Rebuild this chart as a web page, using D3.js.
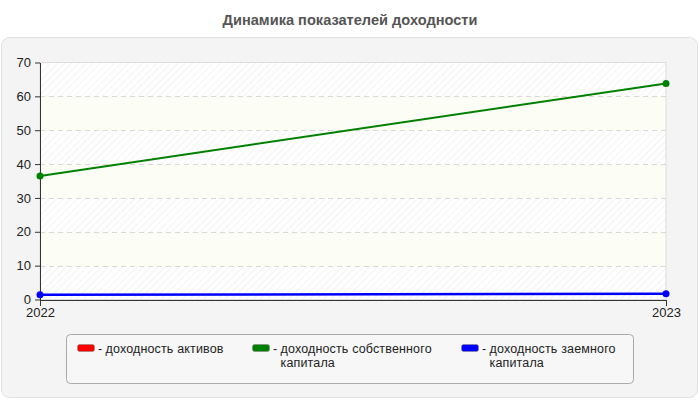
<!DOCTYPE html>
<html><head><meta charset="utf-8">
<script src="https://cdn.jsdelivr.net/npm/d3@7"></script>
<style>html,body{margin:0;padding:0;background:#fff;}svg{display:block;font-family:"Liberation Sans",Arial,sans-serif;}</style>
</head><body>
<svg id="c" width="700" height="400"></svg>
<script>
const title = "Динамика показателей доходности";
const years = ["2022", "2023"];
const yTicks = [0, 10, 20, 30, 40, 50, 60, 70];
const seriesNames = ["доходность активов", "доходность собственного капитала", "доходность заемного капитала"];
const seriesLines = [["доходность активов"], ["доходность собственного", "капитала"], ["доходность заемного", "капитала"]];
const seriesColors = ["#ff0000", "#008000", "#0000ff"];
const assetsValues = [null, null];
const equityValues = [36.5, 63.8];
const debtValues = [1.4, 1.7];
const allValues = [assetsValues, equityValues, debtValues];

const svg = d3.select("#c");
const m = {l: 40, r: 666, t: 62.5, b: 299.5};

svg.append("text").attr("x", 350).attr("y", 25).attr("text-anchor", "middle")
  .attr("font-size", 14.6).attr("font-weight", "bold").attr("fill", "#555").text(title);

svg.append("rect").attr("x", 1.5).attr("y", 37.5).attr("width", 696).attr("height", 360)
  .attr("rx", 8).attr("fill", "#f4f4f4").attr("stroke", "#e2e2e2");

const defs = svg.append("defs");
const pat = defs.append("pattern").attr("id", "hatch").attr("patternUnits", "userSpaceOnUse")
  .attr("width", 5).attr("height", 5).attr("patternTransform", "rotate(45)");
pat.append("rect").attr("width", 5).attr("height", 5).attr("fill", "#ffffff");
pat.append("line").attr("x1", 0).attr("y1", 0).attr("x2", 0).attr("y2", 5).attr("stroke", "#ececec").attr("stroke-width", 1.2);

const x = d3.scalePoint().domain(years).range([m.l, m.r]);
const y = d3.scaleLinear().domain([0, 70]).range([m.b, m.t]);

svg.append("rect").attr("x", m.l).attr("y", m.t).attr("width", m.r - m.l).attr("height", m.b - m.t)
  .attr("fill", "url(#hatch)");
for (let i = 0; i < yTicks.length - 1; i++) {
  if (i % 2 === 1) {
    svg.append("rect").attr("x", m.l).attr("y", y(yTicks[i + 1])).attr("width", m.r - m.l)
      .attr("height", y(yTicks[i]) - y(yTicks[i + 1])).attr("fill", "#fcfdf4").attr("opacity", 0.9);
  }
}
svg.append("rect").attr("x", m.l).attr("y", m.t).attr("width", m.r - m.l).attr("height", m.b - m.t)
  .attr("fill", "none").attr("stroke", "#dddddd");

svg.append("g").selectAll("line").data(yTicks.filter(t => t > 0 && t < 70)).join("line")
  .attr("x1", m.l).attr("x2", m.r).attr("y1", d => Math.round(y(d)) + 0.5).attr("y2", d => Math.round(y(d)) + 0.5)
  .attr("stroke", "#d8d8d8").attr("stroke-dasharray", "5,4");

const ya = svg.append("g").attr("transform", `translate(${m.l},0)`)
  .call(d3.axisLeft(y).tickValues(yTicks).tickSize(5).tickPadding(4).tickSizeOuter(0));
ya.select(".domain").attr("stroke", "#333");
ya.selectAll(".tick line").attr("stroke", "#333");
ya.selectAll("text").attr("font-size", 13).attr("fill", "#222").attr("font-family", "Liberation Sans, Arial");

const xa = svg.append("g").attr("transform", `translate(0,${m.b + 0.5})`)
  .call(d3.axisBottom(x).tickSize(6).tickPadding(2).tickSizeOuter(0));
xa.select(".domain").attr("stroke", "#333");
xa.selectAll(".tick line").attr("stroke", "#333");
xa.selectAll("text").attr("font-size", 13).attr("fill", "#222").attr("font-family", "Liberation Sans, Arial");

const line = d3.line().defined(d => d != null).x((d, i) => x(years[i])).y(d => y(d));
allValues.forEach((vals, si) => {
  svg.append("path").datum(vals).attr("d", line).attr("fill", "none")
    .attr("stroke", seriesColors[si]).attr("stroke-width", si === 2 ? 2.5 : 2);
  svg.append("g").selectAll("circle").data(vals.map((v, i) => [v, i]).filter(d => d[0] != null)).join("circle")
    .attr("cx", d => x(years[d[1]])).attr("cy", d => y(d[0])).attr("r", 3.5).attr("fill", seriesColors[si]);
});

svg.append("rect").attr("x", 66.5).attr("y", 334.5).attr("width", 567).attr("height", 49)
  .attr("rx", 4).attr("fill", "#f7f7f7").attr("stroke", "#aaaaaa");
const legX = [77, 252, 461];
seriesNames.forEach((n, i) => {
  const g = svg.append("g");
  g.append("rect").attr("x", legX[i] + 0.5).attr("y", 344.5).attr("width", 17).attr("height", 7)
    .attr("rx", 2).attr("fill", seriesColors[i]).attr("stroke", "#888").attr("stroke-width", 0.6);
  const multi = seriesLines[i].length > 1;
  const t = g.append("text").attr("font-size", 12.5).attr("fill", "#222")
    .attr("x", legX[i] + 21).attr("y", 353);
  t.append("tspan").attr("x", legX[i] + 21).attr("y", 353).text("- ");
  seriesLines[i].forEach((s, j) => {
    const ts = t.append("tspan").text(s).attr("letter-spacing", 0.15);
    if (j === 0) ts.attr("x", legX[i] + 28.5).attr("y", multi ? 352.5 : 353);
    else ts.attr("x", legX[i] + 28.5).attr("dy", 14.6);
  });
});
</script>
</body></html>
